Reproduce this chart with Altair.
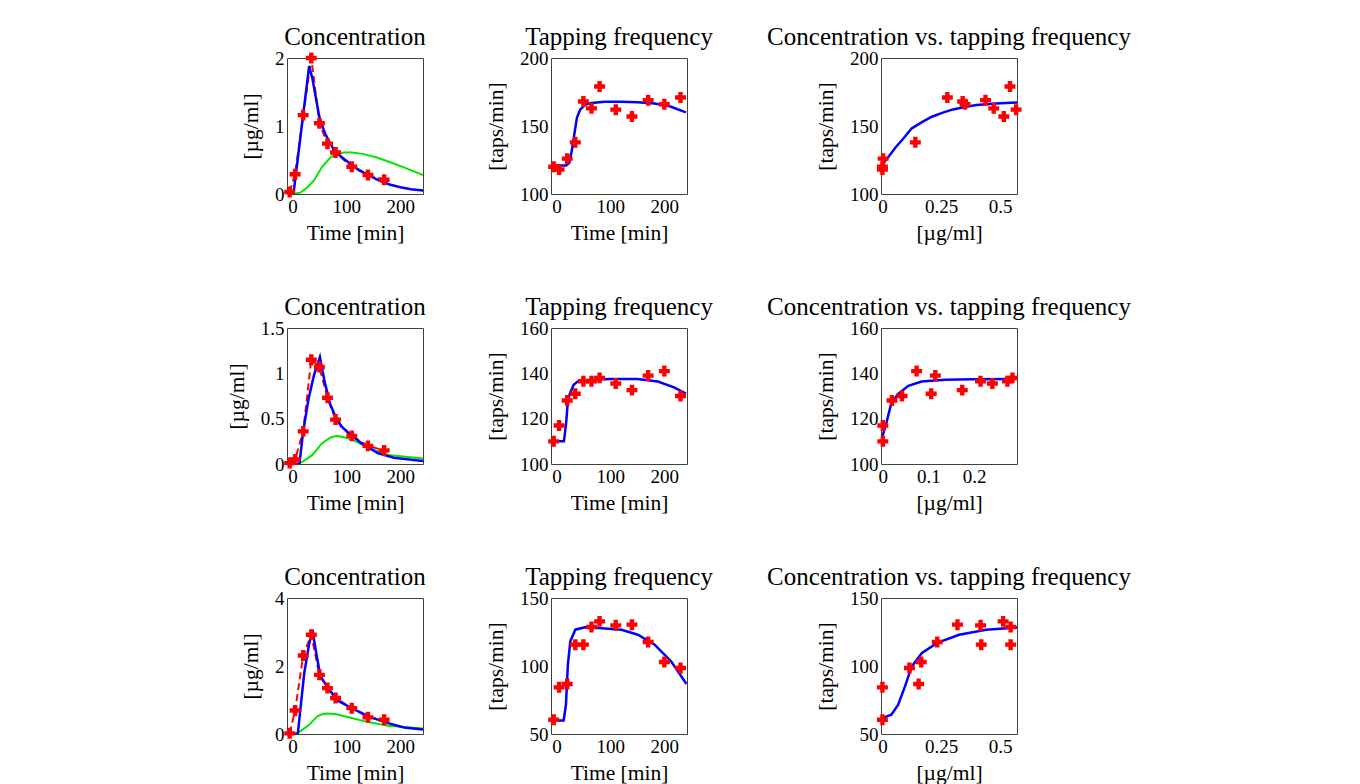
import altair as alt
import pandas as pd

FONT = "Liberation Serif"
RED = "#ff0000"
BLUE = "#0000ff"
GREEN = "#00e600"

# sampling times
tap_times = [-5, 5, 20, 35, 50, 65, 80, 110, 140, 170, 200, 230]
conc_times = [-5, 5, 20, 35, 50, 65, 80, 110, 140, 170]

# ---------------- subject 1 ----------------
conc_obs_1 = [0.03, 0.29, 1.16, 2.0, 1.04, 0.74, 0.61, 0.40, 0.28, 0.21]
pk_t_1 = [-10, 0, 2, 31, 37, 50, 60, 70, 80, 90, 100, 120, 140, 160, 180, 200, 220, 245]
pk_c_1 = [0, 0, 0, 1.88, 1.70, 1.13, 0.9, 0.74, 0.62, 0.55, 0.49, 0.37, 0.28, 0.2, 0.14, 0.1, 0.07, 0.05]
ce_t_1 = [-10, 0, 15, 28, 40, 55, 72, 95, 110, 130, 155, 180, 210, 245]
ce_c_1 = [0, 0, 0.02, 0.10, 0.20, 0.40, 0.55, 0.61, 0.61, 0.59, 0.54, 0.47, 0.38, 0.27]
tap_obs_1 = [120, 118, 126, 138, 168, 163, 179, 162, 157, 169, 166, 171]
pd_t_1 = [-10, 18, 24, 29, 34, 38, 44, 53, 65, 90, 120, 150, 182, 210, 240]
pd_f_1 = [121, 121, 123, 133, 146, 156, 162, 165.5, 167, 167.8, 167.8, 167.5, 166.6, 164.5, 160]
ce_at_tap_1 = [0, 0, 0.003, 0.14, 0.341, 0.473, 0.542, 0.568, 0.516, 0.438, 0.351, 0.276]
emax_c_1 = [-0.006, 0.02, 0.053, 0.09, 0.125, 0.17, 0.21, 0.26, 0.30, 0.35, 0.40, 0.48, 0.575]
emax_f_1 = [121, 126, 133.7, 141, 148.3, 153, 156.8, 160, 162.2, 164, 165.4, 166.5, 167.3]

# ---------------- subject 2 ----------------
conc_obs_2 = [0.01, 0.05, 0.36, 1.15, 1.07, 0.73, 0.49, 0.31, 0.20, 0.15]
pk_t_2 = [-10, 13, 20, 30, 40, 51, 60, 70, 80, 90, 104, 128, 158, 188, 245]
pk_c_2 = [0, 0, 0.36, 0.72, 0.98, 1.18, 0.9, 0.66, 0.52, 0.42, 0.34, 0.23, 0.12, 0.07, 0.03]
ce_t_2 = [-10, 10, 20, 37, 55, 70, 82, 100, 117, 148, 178, 210, 245]
ce_c_2 = [0, 0, 0.03, 0.10, 0.23, 0.29, 0.31, 0.29, 0.25, 0.16, 0.10, 0.08, 0.06]
tap_obs_2 = [110, 117, 128, 131, 136.5, 136.5, 138, 135.5, 132.6, 139, 141, 130]
pd_t_2 = [-10, 14, 18, 21, 25, 32, 40, 47, 100, 150, 188, 218, 240]
pd_f_2 = [110, 110, 118, 127, 131, 135, 136.5, 137, 137.5, 137.5, 136.4, 133.8, 131.1]
ce_at_tap_2 = [0, 0, 0.02, 0.106, 0.214, 0.273, 0.284, 0.240, 0.174, 0.115, 0.074, 0.042]
emax_c_2 = [-0.004, 0.007, 0.018, 0.033, 0.056, 0.085, 0.137, 0.2, 0.294]
emax_f_2 = [110, 117.5, 126.4, 130.8, 134.5, 136.4, 137.2, 137.4, 137.5]

# ---------------- subject 3 ----------------
conc_obs_3 = [0.02, 0.69, 2.31, 2.92, 1.74, 1.35, 1.06, 0.76, 0.49, 0.42]
pk_t_3 = [-10, 10, 16, 22, 31, 37, 45, 52, 60, 68, 86, 116, 146, 177, 207, 245]
pk_c_3 = [0, 0, 0.9, 1.8, 2.65, 3.07, 2.3, 1.7, 1.5, 1.3, 0.96, 0.71, 0.49, 0.32, 0.19, 0.13]
ce_t_3 = [-10, 0, 10, 31, 46, 55, 62, 80, 104, 140, 177, 245]
ce_c_3 = [0, 0, 0.03, 0.27, 0.52, 0.58, 0.60, 0.59, 0.49, 0.35, 0.24, 0.16]
tap_obs_3 = [60.5, 84.3, 86.8, 115.7, 115.7, 128.7, 132.8, 129.9, 130.4, 117.6, 102.9, 98.5]
pd_t_3 = [-10, 13.4, 17.7, 21.3, 25.7, 35, 53, 78, 120.6, 151, 182, 212.5, 241]
pd_f_3 = [60, 60, 71.5, 101, 118, 126.7, 128.4, 128, 126.7, 123, 115.7, 103.4, 86.8]
ce_at_tap_3 = [0, 0, 0.154, 0.42, 0.545, 0.545, 0.513, 0.417, 0.319, 0.233, 0.165, 0.115]
emax_c_3 = [-0.006, 0.038, 0.067, 0.096, 0.125, 0.168, 0.233, 0.326, 0.441, 0.573]
emax_f_3 = [61.25, 64.2, 71.5, 85, 99.7, 109.6, 117, 123, 126.7, 128.4]

TIME_DOM = [-10, 242]
W = 136
H = 136
FMT = ".3~f"


def xs(field, dom, ticks, title):
    return alt.X(f"{field}:Q", scale=alt.Scale(domain=dom, nice=False, zero=False),
                 axis=alt.Axis(values=ticks, title=title, format=FMT))


def ys(field, dom, ticks, title):
    return alt.Y(f"{field}:Q", scale=alt.Scale(domain=dom, nice=False, zero=False),
                 axis=alt.Axis(values=ticks, title=title, format=FMT))


def points(df, x, y):
    return alt.Chart(df).mark_point(shape="cross", filled=True, size=120, color=RED,
                                    opacity=1, strokeWidth=0).encode(x=x, y=y)


def line(df, x, y, color, width, dash=None):
    kw = dict(color=color, strokeWidth=width, clip=True)
    if dash:
        kw["strokeDash"] = dash
    return alt.Chart(df).mark_line(**kw).encode(x=x, y=y)


def conc_panel(obs, pk_t, pk_c, ce_t, ce_c, ydom, yticks):
    x = xs("t", TIME_DOM, [0, 100, 200], "Time [min]")
    y = ys("c", ydom, yticks, "[µg/ml]")
    obs_df = pd.DataFrame({"t": conc_times, "c": obs})
    pk_df = pd.DataFrame({"t": pk_t, "c": pk_c})
    ce_df = pd.DataFrame({"t": ce_t, "c": ce_c})
    return alt.layer(
        line(obs_df, x, y, RED, 2, [7, 4]),
        line(ce_df, x, y, GREEN, 2),
        line(pk_df, x, y, BLUE, 2.5),
        points(obs_df, x, y),
    ).properties(width=W, height=H, title="Concentration")


def tap_panel(obs, pd_t, pd_f, ydom, yticks):
    x = xs("t", TIME_DOM, [0, 100, 200], "Time [min]")
    y = ys("f", ydom, yticks, "[taps/min]")
    obs_df = pd.DataFrame({"t": tap_times, "f": obs})
    pd_df = pd.DataFrame({"t": pd_t, "f": pd_f})
    return alt.layer(
        line(pd_df, x, y, BLUE, 2.5),
        points(obs_df, x, y),
    ).properties(width=W, height=H, title="Tapping frequency")


def emax_panel(ce_tap, obs, ec, ef, xdom, xticks, ydom, yticks):
    x = xs("c", xdom, xticks, "[µg/ml]")
    y = ys("f", ydom, yticks, "[taps/min]")
    obs_df = pd.DataFrame({"c": ce_tap, "f": obs})
    m_df = pd.DataFrame({"c": ec, "f": ef})
    return alt.layer(
        line(m_df, x, y, BLUE, 2.5),
        points(obs_df, x, y),
    ).properties(width=W, height=H, title="Concentration vs. tapping frequency")


def spacer(w):
    return alt.Chart(pd.DataFrame({"v": [0]})).mark_point(opacity=0).encode(
        x=alt.X("v:Q", axis=None), y=alt.Y("v:Q", axis=None)
    ).properties(width=w, height=H, view=alt.ViewBackground(stroke="transparent"))


rows = [
    (conc_panel(conc_obs_1, pk_t_1, pk_c_1, ce_t_1, ce_c_1, [0, 2], [0, 1, 2]),
     tap_panel(tap_obs_1, pd_t_1, pd_f_1, [100, 200], [100, 150, 200]),
     emax_panel(ce_at_tap_1, tap_obs_1, emax_c_1, emax_f_1, [-0.006, 0.572], [0, 0.25, 0.5],
                [100, 200], [100, 150, 200])),
    (conc_panel(conc_obs_2, pk_t_2, pk_c_2, ce_t_2, ce_c_2, [0, 1.5], [0, 0.5, 1, 1.5]),
     tap_panel(tap_obs_2, pd_t_2, pd_f_2, [100, 160], [100, 120, 140, 160]),
     emax_panel(ce_at_tap_2, tap_obs_2, emax_c_2, emax_f_2, [-0.004, 0.294], [0, 0.1, 0.2],
                [100, 160], [100, 120, 140, 160])),
    (conc_panel(conc_obs_3, pk_t_3, pk_c_3, ce_t_3, ce_c_3, [0, 4], [0, 2, 4]),
     tap_panel(tap_obs_3, pd_t_3, pd_f_3, [50, 150], [50, 100, 150]),
     emax_panel(ce_at_tap_3, tap_obs_3, emax_c_3, emax_f_3, [-0.006, 0.572], [0, 0.25, 0.5],
                [50, 150], [50, 100, 150])),
]

cells = []
for a, b, c in rows:
    cells += [a, spacer(128), b, spacer(194), c]

chart = alt.concat(*cells, columns=5, spacing={"row": 134, "column": 0}, bounds="flush").properties(
    padding={"left": 217, "top": 16, "right": 5, "bottom": 0},
    background="white",
).configure_view(
    stroke="#404040", strokeWidth=1
).configure_axis(
    labelFont=FONT, titleFont=FONT, labelFontSize=19, titleFontSize=21.5,
    titleFontWeight="normal", labelColor="black", titleColor="black",
    grid=False, ticks=False, domain=False, labelFlush=False, labelOverlap=False,
).configure_axisX(
    labelPadding=3, titlePadding=6
).configure_axisY(
    labelPadding=3, titlePadding=12
).configure_title(
    font=FONT, fontSize=25, fontWeight="normal", color="black",
    baseline="alphabetic", offset=-1, anchor="middle"
)

chart.save("out.html", embed_options={"renderer": "svg", "actions": False})
